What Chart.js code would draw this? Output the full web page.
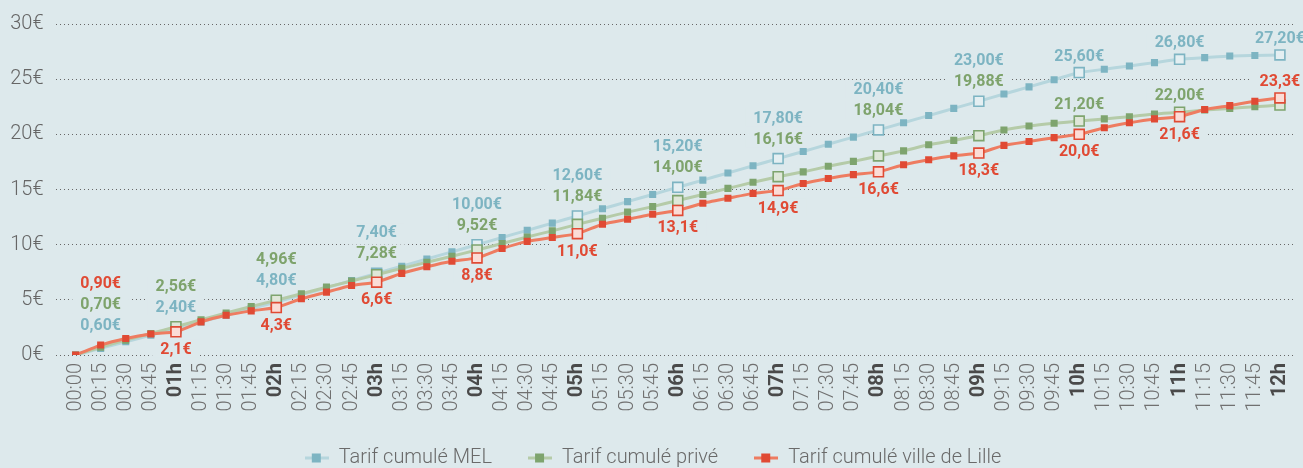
<!DOCTYPE html>
<html>
<head>
<meta charset="utf-8">
<script src="https://cdn.jsdelivr.net/npm/chart.js@4"></script>
<style>
  html, body { margin: 0; padding: 0; background: #dde9ec; }
  #wrap { width: 1303px; height: 468px; }
</style>
</head>
<body>
<div id="wrap"><canvas id="tarifs"></canvas></div>
<script>
// x axis labels (every 15 min)
var timeLabels = ['00:00','00:15','00:30','00:45','01h','01:15','01:30','01:45',
  '02h','02:15','02:30','02:45','03h','03:15','03:30','03:45',
  '04h','04:15','04:30','04:45','05h','05:15','05:30','05:45',
  '06h','06:15','06:30','06:45','07h','07:15','07:30','07:45',
  '08h','08:15','08:30','08:45','09h','09:15','09:30','09:45',
  '10h','10:15','10:30','10:45','11h','11:15','11:30','11:45','12h'];

var tarifMEL = [0,0.6,1.2,1.8,2.4,3.0,3.6,4.2,
  4.8,5.45,6.1,6.75,7.4,8.05,8.7,9.35,
  10.0,10.65,11.3,11.95,12.6,13.25,13.9,14.55,
  15.2,15.85,16.5,17.15,17.8,18.45,19.1,19.75,
  20.4,21.05,21.7,22.35,23.0,23.65,24.3,24.95,
  25.6,25.9,26.2,26.5,26.8,26.95,27.1,27.15,27.2];

var tarifPrive = [0,0.7,1.35,1.95,2.56,3.2,3.8,4.4,
  4.96,5.55,6.15,6.7,7.28,7.85,8.4,8.95,
  9.52,10.1,10.7,11.25,11.84,12.4,12.95,13.45,
  14.0,14.55,15.1,15.65,16.16,16.6,17.1,17.55,
  18.04,18.5,19.05,19.45,19.88,20.4,20.75,21.0,
  21.2,21.4,21.6,21.85,22.0,22.2,22.35,22.5,22.65];

var tarifLille = [0,0.9,1.5,1.9,2.1,3.0,3.6,4.0,
  4.3,5.1,5.7,6.3,6.6,7.4,8.0,8.5,
  8.8,9.65,10.3,10.65,11.0,11.85,12.3,12.75,
  13.1,13.75,14.2,14.65,14.9,15.55,16.0,16.35,
  16.6,17.25,17.7,18.05,18.3,19.0,19.35,19.7,
  20.0,20.6,21.05,21.4,21.6,22.25,22.6,23.0,23.3];

// points that carry a value label
var labelPoints = [1,4,8,12,16,20,24,28,32,36,40,44,48];
var privePointsNoLabel = [48];
var lillePointsTwoDecimals = [1];

var BG = '#dde9ec';
var colors = {
  mel:   { mark: '#7db4c2', line: '#b6d6dd', fill: '#e4eff2', text: '#7db4c2' },
  prive: { mark: '#7ea46e', line: '#b5cba8', fill: '#dfe7d9', text: '#7ea36c' },
  lille: { mark: '#e04a34', line: '#ee7c61', fill: '#fbdcd6', text: '#e04a34' }
};

Chart.defaults.font.family = 'Roboto';

function isHour(i) { return i > 0 && i % 4 === 0; }

function makeDataset(label, data, c, order) {
  return {
    label: label,
    data: data.map(function (v, i) { return { x: i, y: v }; }),
    borderColor: c.line,
    borderWidth: 3,
    tension: 0.15,
    fill: false,
    order: order,
    pointStyle: 'rect',
    pointRadius: function (ctx) { return isHour(ctx.dataIndex) ? 7 : 5; },
    pointBackgroundColor: function (ctx) { return isHour(ctx.dataIndex) ? c.fill : c.mark; },
    pointBorderColor: c.mark,
    pointBorderWidth: function (ctx) { return isHour(ctx.dataIndex) ? 1.6 : 0; },
    pointHoverRadius: 7
  };
}

// legend icon: a short line with a square on it
function legendIcon(c) {
  var cv = document.createElement('canvas');
  cv.width = 24; cv.height = 10;
  var g = cv.getContext('2d');
  g.fillStyle = c.line;
  g.fillRect(0, 3.5, 24, 3);
  g.fillStyle = c.mark;
  g.fillRect(7, 0.5, 9, 9);
  return cv;
}

function fmt(v, dec) { return v.toFixed(dec).replace('.', ',') + '€'; }

// place value labels, stacking the ones that would collide
function labelLayout(chart) {
  var xs = chart.scales.x, ys = chart.scales.y;
  var out = [];
  labelPoints.forEach(function (i) {
    var px = xs.getPixelForValue(i);
    var items = [
      { v: tarifMEL[i], dec: 2, color: colors.mel.text, up: true },
      { v: tarifPrive[i], dec: 2, color: colors.prive.text, up: true, skip: privePointsNoLabel.indexOf(i) >= 0 },
      { v: tarifLille[i], dec: lillePointsTwoDecimals.indexOf(i) >= 0 ? 2 : 1,
        color: colors.lille.text, up: tarifLille[i] >= tarifPrive[i] }
    ].filter(function (it) { return !it.skip; });
    items.forEach(function (it) { it.py = ys.getPixelForValue(it.v); });
    var above = items.filter(function (it) { return it.up; }).sort(function (a, b) { return a.py - b.py; });
    var below = items.filter(function (it) { return !it.up; });
    // clusters of close points
    var clusters = [];
    above.forEach(function (it) {
      var last = clusters[clusters.length - 1];
      if (last && it.py - last[last.length - 1].py < 40) last.push(it);
      else clusters.push([it]);
    });
    clusters.forEach(function (cl) {
      var n = cl.length, top = cl[0].py;
      var base = n > 1 ? 20 : 17;
      cl.forEach(function (it, j) {
        out.push({ x: px, y: top - base - 21 * (n - 1 - j), text: fmt(it.v, it.dec), color: it.color });
      });
    });
    below.forEach(function (it) {
      out.push({ x: px, y: it.py + 17, text: fmt(it.v, it.dec), color: it.color });
    });
  });
  return out;
}

var valueLabels = {
  id: 'valueLabels',
  beforeDatasetsDraw: function (chart) {
    var ctx = chart.ctx;
    ctx.save();
    ctx.font = 'bold 16px Roboto';
    ctx.fillStyle = BG;
    labelLayout(chart).forEach(function (l) {
      var w = ctx.measureText(l.text).width;
      ctx.fillRect(l.x - w / 2 - 8, l.y - 9, w + 16, 18);
    });
    ctx.restore();
  },
  afterDatasetsDraw: function (chart) {
    var ctx = chart.ctx;
    ctx.save();
    ctx.font = 'bold 16px Roboto';
    ctx.textAlign = 'center';
    ctx.textBaseline = 'middle';
    labelLayout(chart).forEach(function (l) {
      ctx.fillStyle = l.color;
      ctx.fillText(l.text, l.x, l.y + 1);
    });
    ctx.restore();
  }
};

var datasets = [
  makeDataset('Tarif cumulé MEL', tarifMEL, colors.mel, 3),
  makeDataset('Tarif cumulé privé', tarifPrive, colors.prive, 2),
  makeDataset('Tarif cumulé ville de Lille', tarifLille, colors.lille, 1)
];
var icons = [legendIcon(colors.mel), legendIcon(colors.prive), legendIcon(colors.lille)];

new Chart('tarifs', {
  type: 'line',
  data: { datasets: datasets },
  plugins: [valueLabels],
  options: {
    responsive: true,
    maintainAspectRatio: false,
    animation: false,
    layout: { autoPadding: false, padding: { left: 10, right: 7, top: 12, bottom: 0 } },
    plugins: {
      tooltip: { enabled: false },
      legend: {
        position: 'bottom',
        maxHeight: 56,
        labels: {
          usePointStyle: true,
          pointStyleWidth: 24,
          padding: 36,
          color: '#6a6a6a',
          font: { size: 20, weight: '300' },
          generateLabels: function (chart) {
            return chart.data.datasets.map(function (ds, i) {
              return { text: ds.label, pointStyle: icons[i], datasetIndex: i, hidden: false,
                       fillStyle: 'transparent', strokeStyle: 'transparent', lineWidth: 0, fontColor: '#6a6a6a' };
            });
          }
        }
      }
    },
    scales: {
      x: {
        type: 'linear',
        min: -0.8,
        max: 48.64,
        grid: { display: false, drawTicks: false },
        border: { display: false },
        afterBuildTicks: function (scale) {
          scale.ticks = timeLabels.map(function (_, i) { return { value: i }; });
        },
        afterFit: function (scale) {
          scale.paddingLeft = 0;
          scale.paddingRight = 0;
          scale.height = 57;
        },
        ticks: {
          autoSkip: false,
          minRotation: 90,
          maxRotation: 90,
          padding: 8,
          callback: function (v) { return timeLabels[v]; },
          color: function (c) { return isHour(c.index) ? '#4a4a4a' : '#707070'; },
          font: function (c) {
            return isHour(c.index) ? { size: 20, weight: 'bold' } : { size: 20, weight: '300' };
          }
        }
      },
      y: {
        min: 0,
        max: 30,
        grid: { color: '#666', lineWidth: 1, drawTicks: false },
        border: { display: false, dash: [1, 3] },
        afterFit: function (scale) {
          scale.width = 45.5;
        },
        ticks: {
          stepSize: 5,
          padding: 12,
          color: '#666',
          font: { size: 20, weight: '300' },
          callback: function (v) { return v + '€'; }
        }
      }
    }
  }
});
</script>
</body>
</html>
